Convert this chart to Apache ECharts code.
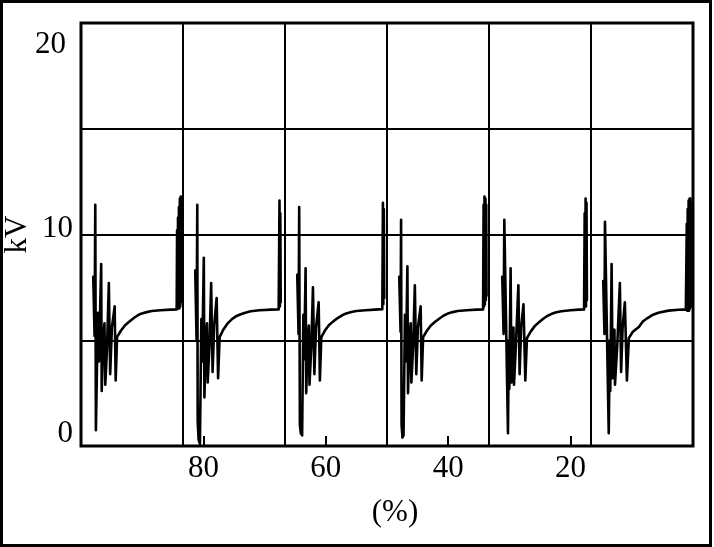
<!DOCTYPE html>
<html>
<head>
<meta charset="utf-8">
<script src="https://cdn.jsdelivr.net/npm/echarts@6/dist/echarts.min.js"></script>
<style>
html,body{margin:0;padding:0;background:#fff;}
#wrap{position:relative;width:714px;height:547px;}
#chart{width:714px;height:547px;}
#frame{position:absolute;left:0;top:0;width:712px;height:547px;border:3px solid #000;box-sizing:border-box;pointer-events:none;}
</style>
</head>
<body>
<div id="wrap"><div id="chart"></div><div id="frame"></div></div>
<script>
// Tick labels
const xTickLabels = [80, 60, 40, 20];
const yTickLabels = [0, 10, 20];
const cycleCount = 6;

// One array per cycle: [position within cycle (0-100), kV]
const cycle1 = [[12.0,8.0],[13.3,5.2],[14.0,11.4],[14.6,0.75],[16.6,6.3],[17.6,4.0],[19.8,8.6],[20.3,2.6],[21.6,5.0],[23.0,5.8],[23.8,2.9],[25.5,4.6],[27.3,7.7],[28.6,3.4],[30.3,5.6],[33.0,6.6],[34.0,3.1],[35.4,5.16],[39.1,5.45],[43.0,5.7],[46.9,5.86],[51.8,6.05],[55.7,6.18],[59.6,6.27],[64.5,6.33],[69.3,6.38],[78.1,6.42],[87.9,6.45],[93.8,6.46],[94.2,10.2],[94.6,6.5],[95.1,10.8],[95.5,6.5],[96.0,11.3],[96.4,6.5],[96.9,11.7],[97.3,6.6],[97.8,11.8],[98.2,6.8],[98.6,11.6],[99.0,7.0]];
const cycle2 = [[12.0,8.3],[13.3,5.0],[14.0,11.4],[14.4,1.2],[15.3,0.3],[16.6,0.1],[18.0,6.0],[18.8,4.0],[20.4,8.9],[21.0,2.3],[22.4,5.2],[23.5,5.8],[24.2,3.0],[26.0,4.8],[27.6,7.7],[29.0,3.5],[30.6,5.7],[33.0,7.0],[34.4,3.2],[35.9,5.15],[39.5,5.5],[43.8,5.8],[48.0,6.0],[52.5,6.15],[56.6,6.23],[61.0,6.3],[66.4,6.37],[75.0,6.42],[86.0,6.45],[93.8,6.46],[94.6,11.6],[95.0,6.6],[95.4,11.0],[95.8,6.8]];
const cycle3 = [[12.0,8.1],[13.3,5.3],[13.9,11.3],[14.6,1.0],[15.5,0.6],[16.8,0.5],[18.0,6.2],[18.8,4.1],[20.2,8.4],[20.8,2.5],[22.2,5.0],[23.4,5.7],[24.0,2.9],[25.8,4.7],[27.4,7.5],[28.8,3.4],[30.4,5.6],[33.0,6.8],[34.2,3.1],[35.6,5.15],[39.3,5.47],[43.2,5.72],[47.0,5.88],[52.0,6.06],[56.0,6.18],[60.0,6.27],[65.0,6.34],[70.0,6.38],[79.0,6.42],[88.0,6.45],[95.4,6.47],[96.0,11.5],[96.4,6.7],[96.9,11.2],[97.3,7.0]];
const cycle4 = [[12.0,8.0],[13.3,5.4],[13.8,10.7],[14.3,1.0],[15.2,0.4],[16.2,0.5],[17.6,6.2],[18.6,4.0],[20.0,8.5],[20.6,2.5],[22.0,5.1],[23.2,5.8],[23.9,3.0],[25.6,4.7],[27.3,7.6],[28.7,3.4],[30.3,5.6],[33.0,6.6],[34.0,3.1],[35.4,5.15],[39.1,5.45],[43.0,5.7],[46.9,5.86],[51.8,6.04],[55.7,6.17],[59.6,6.26],[64.5,6.33],[69.3,6.38],[78.1,6.42],[87.9,6.45],[94.2,6.46],[94.7,11.4],[95.1,6.6],[95.6,11.8],[96.0,6.7],[96.5,11.7],[96.9,6.9],[97.3,11.4],[97.6,7.1]];
const cycle5 = [[13.0,8.0],[14.3,5.3],[15.0,10.7],[18.6,0.6],[19.4,5.0],[19.9,2.7],[21.2,8.4],[22.0,3.0],[24.0,5.6],[24.5,2.9],[26.4,4.8],[28.8,7.6],[30.0,3.4],[31.5,5.6],[33.8,6.7],[35.6,3.1],[37.2,5.1],[41.0,5.42],[45.0,5.68],[49.0,5.85],[53.5,6.03],[57.5,6.16],[61.5,6.25],[66.0,6.32],[71.0,6.37],[80.0,6.42],[88.0,6.45],[93.2,6.46],[93.8,11.0],[94.2,6.6],[94.7,11.7],[95.1,6.6],[95.6,11.5],[96.0,6.9]];
const cycle6 = [[12.0,7.8],[13.2,5.3],[13.7,10.6],[17.4,0.6],[18.4,5.0],[18.9,2.6],[20.2,8.6],[21.2,3.2],[23.0,5.5],[23.5,2.9],[25.8,4.8],[28.3,7.7],[29.5,3.5],[31.0,5.6],[33.2,6.8],[35.2,3.1],[37.1,5.1],[41.0,5.4],[46.9,5.63],[51.0,5.9],[55.5,6.05],[59.6,6.18],[66.0,6.3],[76.0,6.4],[86.0,6.44],[93.0,6.46],[93.5,6.5],[93.9,10.5],[94.3,6.4],[94.8,11.2],[95.2,6.4],[95.7,11.6],[96.1,6.4],[96.6,11.7],[97.0,6.5],[97.5,11.7],[97.9,6.6],[98.4,11.5],[98.8,6.8],[99.3,11.2]];
const cycles = [cycle1, cycle2, cycle3, cycle4, cycle5, cycle6];

const FONT = 'Liberation Serif';
const chart = echarts.init(document.getElementById('chart'), null, {renderer: 'canvas'});

const series = cycles.map((c, i) => ({
  type: 'line',
  xAxisIndex: 1,
  yAxisIndex: 0,
  data: c.map(p => [i * 100 + p[0], p[1]]),
  symbol: 'none',
  lineStyle: {color: '#000', width: 2.6, join: 'round', cap: 'round'},
  z: 5
}));

const rich = {
  l0: {fontFamily: FONT, fontSize: 31, color: '#000', padding: [0, 0, 24, 0]},
  l10: {fontFamily: FONT, fontSize: 31, color: '#000', padding: [0, 0, 12, 0]},
  l20: {fontFamily: FONT, fontSize: 31, color: '#000', padding: [44, 7, 0, 0]}
};

chart.setOption({
  animation: false,
  backgroundColor: '#fff',
  grid: {left: 81, right: 21, top: 23, bottom: 101, show: true, borderColor: '#000', borderWidth: 3, containLabel: false, outerBoundsMode: 'none'},
  xAxis: [
    {
      type: 'value', inverse: true, min: 0, max: 100, interval: 20,
      position: 'bottom',
      axisLine: {show: false},
      axisTick: {show: true, inside: true, length: 10, lineStyle: {color: '#000', width: 2}},
      splitLine: {show: false},
      axisLabel: {
        margin: 7, fontFamily: FONT, fontSize: 31, color: '#000',
        formatter: v => xTickLabels.includes(v) ? String(v) : ''
      },
      name: '(%)', nameLocation: 'middle', nameGap: 51,
      nameTextStyle: {fontFamily: FONT, fontSize: 31, color: '#000', padding: [0, 0, 0, 16]}
    },
    {
      type: 'value', min: 0, max: cycleCount * 100, interval: 100,
      position: 'bottom',
      axisLine: {show: false}, axisTick: {show: false}, axisLabel: {show: false},
      splitLine: {show: true, lineStyle: {color: '#000', width: 2}}
    }
  ],
  yAxis: {
    type: 'value', min: 0, max: 20, interval: 5,
    axisLine: {show: false}, axisTick: {show: false},
    splitLine: {show: true, lineStyle: {color: '#000', width: 2}},
    axisLabel: {
      margin: 8, fontFamily: FONT, fontSize: 31, color: '#000',
      formatter: v => yTickLabels.includes(v) ? '{l' + v + '|' + v + '}' : '',
      rich: rich
    },
    name: 'kV', nameLocation: 'middle', nameGap: 48, nameMoveOverlap: false,
    nameTextStyle: {fontFamily: FONT, fontSize: 31, color: '#000'}
  },
  series: series
});
</script>
</body>
</html>
